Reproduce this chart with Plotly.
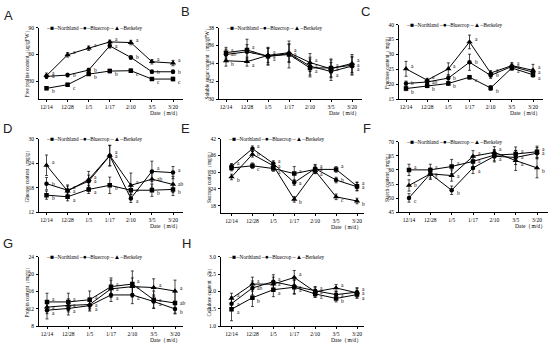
import plotly.graph_objects as go

dates = ["12/14", "12/28", "1/5", "1/17", "2/10", "3/5", "3/20"]
series_names = ["Northland", "Bluecrop", "Berkeley"]

# ---- A: Free proline
a_northland = [22.2, 26.3, 38.1, 41.5, 41.9, 32.6, 32.6]
a_bluecrop = [35.6, 37.0, 42.6, 69.6, 56.7, 40.7, 40.7]
a_berkeley = [36.3, 59.6, 67.0, 74.0, 73.3, 51.9, 50.4]
a_err_northland = [1.5, 1.5, 1.5, 2.0, 2.0, 1.5, 2.0]
a_err_bluecrop = [2.0, 2.0, 2.0, 2.5, 2.0, 2.0, 2.0]
a_err_berkeley = [3.0, 2.5, 2.5, 2.0, 2.5, 2.5, 3.0]
a_let_northland = ["b", "c", "b", "b", "c", "c", "c"]
a_let_bluecrop = ["a", "b", "b", "a", "b", "b", "b"]
a_let_berkeley = ["a", "a", "a", "a", "a", "a", "a"]

# ---- B: Soluble sugar
b_northland = [35.2, 35.5, 34.8, 35.0, 33.5, 33.5, 33.8]
b_bluecrop = [35.0, 35.3, 34.8, 35.1, 33.7, 33.1, 33.7]
b_berkeley = [34.3, 34.2, 34.9, 35.2, 34.1, 33.4, 34.0]
b_err_northland = [0.6, 1.2, 1.0, 1.5, 1.0, 1.0, 1.0]
b_err_bluecrop = [0.6, 0.8, 0.9, 1.0, 1.0, 1.0, 1.0]
b_err_berkeley = [0.6, 0.5, 0.8, 1.0, 1.0, 1.0, 1.0]
b_let_northland = ["a", "a", "a", "a", "a", "a", "a"]
b_let_bluecrop = ["ab", "a", "a", "a", "a", "a", "a"]
b_let_berkeley = ["b", "a", "a", "a", "a", "a", "a"]

# ---- C: Fructose
c_northland = [18.6, 19.5, 20.3, 22.4, 18.8, 25.5, 23.2]
c_bluecrop = [20.3, 20.8, 22.1, 27.4, 23.0, 26.0, 24.1]
c_berkeley = [25.2, 21.4, 25.2, 34.2, 23.8, 26.3, 24.7]
c_err_northland = [0.7, 0.6, 0.6, 0.6, 0.8, 0.8, 0.8]
c_err_bluecrop = [0.8, 0.7, 1.0, 2.7, 1.0, 0.8, 1.0]
c_err_berkeley = [2.5, 0.6, 2.0, 2.3, 0.8, 1.0, 2.0]
c_let_northland = ["b", "b", "b", "c", "b", "a", "a"]
c_let_bluecrop = ["b", "ab", "b", "b", "b", "a", "a"]
c_let_berkeley = ["a", "a", "a", "a", "a", "a", "a"]

# ---- D: Glucose
d_northland = [16.2, 15.8, 17.6, 18.6, 17.4, 17.4, 17.6]
d_bluecrop = [19.0, 17.4, 19.6, 25.8, 15.4, 22.0, 21.7]
d_berkeley = [23.5, 17.2, 20.0, 25.9, 18.6, 20.1, 18.8]
d_err_northland = [1.0, 1.0, 1.0, 2.0, 1.0, 1.5, 1.5]
d_err_bluecrop = [1.5, 1.0, 1.5, 2.5, 1.0, 2.5, 1.5]
d_err_berkeley = [2.5, 1.5, 2.0, 2.5, 3.0, 2.0, 2.0]
d_let_northland = ["b", "a", "a", "b", "a", "b", "b"]
d_let_bluecrop = ["b", "a", "a", "a", "a", "a", "a"]
d_let_berkeley = ["a", "a", "a", "a", "a", "ab", "ab"]

# ---- E: Sucrose
e_northland = [31.5, 32.3, 31.3, 29.5, 31.0, 31.0, 25.0]
e_bluecrop = [32.1, 38.4, 33.1, 26.3, 31.3, 27.2, 24.8]
e_berkeley = [28.3, 36.4, 32.3, 20.3, 30.5, 21.2, 19.7]
e_err_northland = [1.0, 1.0, 1.0, 2.5, 1.5, 1.0, 1.5]
e_err_bluecrop = [1.0, 1.0, 1.0, 1.0, 1.5, 1.0, 1.5]
e_err_berkeley = [1.0, 1.0, 1.0, 1.0, 1.0, 1.0, 1.0]
e_let_northland = ["a", "c", "a", "a", "a", "a", "a"]
e_let_bluecrop = ["a", "a", "a", "a", "a", "b", "a"]
e_let_berkeley = ["b", "b", "a", "b", "a", "c", "b"]

# ---- F: Starch
f_northland = [60.0, 60.0, 61.2, 63.0, 65.2, 65.6, 66.4]
f_bluecrop = [50.1, 58.6, 52.8, 60.7, 64.8, 64.4, 65.9]
f_berkeley = [54.5, 58.6, 58.0, 64.8, 66.2, 63.3, 60.7]
f_err_northland = [2.0, 2.0, 2.5, 2.0, 2.0, 2.5, 2.0]
f_err_bluecrop = [1.5, 1.5, 1.5, 2.0, 2.0, 2.5, 2.0]
f_err_berkeley = [2.0, 2.0, 2.0, 2.0, 2.0, 3.5, 3.5]
f_let_northland = ["a", "a", "a", "a", "a", "a", "a"]
f_let_bluecrop = ["c", "a", "b", "a", "a", "a", "a"]
f_let_berkeley = ["b", "a", "a", "a", "a", "a", "b"]

# ---- G: Protein
g_northland = [13.6, 13.6, 14.1, 17.1, 17.7, 14.1, 13.35]
g_bluecrop = [11.7, 12.1, 12.75, 15.2, 15.2, 13.7, 12.0]
g_berkeley = [12.4, 12.8, 13.0, 16.6, 17.1, 16.9, 16.1]
g_err_northland = [2.0, 2.0, 2.0, 2.0, 3.0, 2.0, 2.5]
g_err_bluecrop = [2.0, 1.5, 1.0, 1.5, 2.0, 1.5, 1.0]
g_err_berkeley = [1.5, 1.5, 1.5, 2.0, 2.0, 2.0, 2.5]
g_let_northland = ["a", "a", "a", "a", "a", "a", "ab"]
g_let_bluecrop = ["a", "a", "a", "a", "a", "a", "b"]
g_let_berkeley = ["a", "a", "a", "a", "a", "a", "a"]

# ---- H: Cellulose
h_northland = [1.49, 1.82, 2.05, 2.12, 1.93, 1.80, 1.91]
h_bluecrop = [1.65, 2.10, 2.28, 2.14, 2.02, 1.91, 1.98]
h_berkeley = [1.80, 2.21, 2.21, 2.40, 1.99, 2.10, 1.96]
h_err_northland = [0.33, 0.25, 0.2, 0.2, 0.1, 0.1, 0.1]
h_err_bluecrop = [0.2, 0.2, 0.2, 0.2, 0.1, 0.1, 0.1]
h_err_berkeley = [0.15, 0.2, 0.2, 0.2, 0.15, 0.1, 0.15]
h_let_northland = ["a", "b", "a", "a", "a", "b", "a"]
h_let_bluecrop = ["a", "ab", "a", "a", "a", "a", "a"]
h_let_berkeley = ["a", "a", "a", "a", "a", "a", "a"]

panel_letters = ["A", "B", "C", "D", "E", "F", "G", "H"]
y_titles = [
    "Free proline content（μg/gFW）",
    "Soluble sugar content（mg/gFW）",
    "Fructose content（mg/g）",
    "Glucose content（mg/g）",
    "Sucrose content（mg/g）",
    "Starch content（mg/g）",
    "Protein content（mg/g）",
    "Cellulose content（%）",
]
y_ranges = [[10, 90], [30, 38], [15, 40], [12, 30], [15.3, 42], [45, 70], [8, 24], [1.0, 3.0]]
y_ticks = [[30, 60, 90], [30, 32, 34, 36, 38], [15, 20, 25, 30, 35, 40], [12, 18, 24, 30],
           [18, 24, 30, 36, 42], [45, 50, 55, 60, 65, 70], [8, 12, 16, 20, 24],
           [1.0, 1.5, 2.0, 2.5, 3.0]]
x_label = "Date（m/d）"

panel_values = [
    (a_northland, a_bluecrop, a_berkeley), (b_northland, b_bluecrop, b_berkeley),
    (c_northland, c_bluecrop, c_berkeley), (d_northland, d_bluecrop, d_berkeley),
    (e_northland, e_bluecrop, e_berkeley), (f_northland, f_bluecrop, f_berkeley),
    (g_northland, g_bluecrop, g_berkeley), (h_northland, h_bluecrop, h_berkeley),
]
panel_errors = [
    (a_err_northland, a_err_bluecrop, a_err_berkeley), (b_err_northland, b_err_bluecrop, b_err_berkeley),
    (c_err_northland, c_err_bluecrop, c_err_berkeley), (d_err_northland, d_err_bluecrop, d_err_berkeley),
    (e_err_northland, e_err_bluecrop, e_err_berkeley), (f_err_northland, f_err_bluecrop, f_err_berkeley),
    (g_err_northland, g_err_bluecrop, g_err_berkeley), (h_err_northland, h_err_bluecrop, h_err_berkeley),
]
panel_lets = [
    (a_let_northland, a_let_bluecrop, a_let_berkeley), (b_let_northland, b_let_bluecrop, b_let_berkeley),
    (c_let_northland, c_let_bluecrop, c_let_berkeley), (d_let_northland, d_let_bluecrop, d_let_berkeley),
    (e_let_northland, e_let_bluecrop, e_let_berkeley), (f_let_northland, f_let_bluecrop, f_let_berkeley),
    (g_let_northland, g_let_bluecrop, g_let_berkeley), (h_let_northland, h_let_bluecrop, h_let_berkeley),
]

# ---- layout geometry (pixels): left, first-cat, last-cat, right, top, bottom
W, H = 550, 349
geom = [
    (39, 46.5, 173, 183, 25, 98),
    (219, 226, 352, 362, 25, 98),
    (399, 406, 533, 543, 22, 98),
    (39, 46.5, 173, 183, 138, 213),
    (221, 231.5, 357, 364, 138, 214),
    (399, 409, 537, 548, 141, 213),
    (39, 47, 175, 183, 258, 329),
    (221, 231.5, 357, 364, 258, 329),
]
letter_pos = [(8, 13), (185, 9), (365, 9), (7, 128), (185, 128), (367, 128), (8, 245), (186, 245)]

symbols = ["square", "circle", "triangle-up"]
SERIF = "Liberation Serif, Times New Roman, serif"

fig = go.Figure()
annotations = []
layout = {}

for i in range(8):
    n = i + 1
    xa = "x" if n == 1 else f"x{n}"
    ya = "y" if n == 1 else f"y{n}"
    left, first, last, right, top, bottom = geom[i]
    sp = (last - first) / 6.0
    r0 = -(first - left) / sp
    r1 = 6 + (right - last) / sp
    for s in range(3):
        fig.add_trace(go.Scatter(
            x=dates, y=panel_values[i][s], name=series_names[s],
            mode="lines+markers", xaxis=xa, yaxis=ya, showlegend=False,
            line=dict(color="black", width=1),
            marker=dict(symbol=symbols[s], size=4.5 if s != 2 else 5.5, color="black"),
            error_y=dict(type="data", array=panel_errors[i][s], color="black",
                         thickness=0.7, width=1.5),
        ))
    # significance letters
    for k in range(7):
        vals = [panel_values[i][s][k] for s in range(3)]
        order = sorted(range(3), key=lambda s: vals[s])
        for s in range(3):
            rank = order.index(s)
            ys = {0: -3, 1: 0, 2: 3}[rank]
            annotations.append(dict(
                x=dates[k], y=vals[s], xref=xa, yref=ya, text=panel_lets[i][s][k],
                showarrow=False, xanchor="left", yanchor="middle", xshift=3, yshift=ys,
                font=dict(family=SERIF, size=5.5, color="black")))
    xk = "xaxis" if n == 1 else f"xaxis{n}"
    yk = "yaxis" if n == 1 else f"yaxis{n}"
    layout[xk] = dict(
        domain=[left / W, right / W], anchor=ya, type="category", range=[r0, r1],
        showline=True, linecolor="black", linewidth=1, ticks="outside", ticklen=2,
        tickwidth=1, tickcolor="black", showgrid=False, zeroline=False,
        ticklabelstandoff=0,
        tickfont=dict(family=SERIF, size=5.5, color="black"), fixedrange=True)
    layout[yk] = dict(
        domain=[1 - bottom / H, 1 - top / H], anchor=xa, range=y_ranges[i],
        tickvals=y_ticks[i], showline=True, linecolor="black", linewidth=1,
        ticks="outside", ticklen=2, tickwidth=1, tickcolor="black", showgrid=False,
        zeroline=False, tickfont=dict(family=SERIF, size=5.5, color="black"),
        ticklabelstandoff=1, fixedrange=True,
        tickformat=".1f" if i == 7 else None)
    # y-title
    annotations.append(dict(
        x=(left - 12) / W, y=1 - (top + bottom) / 2 / H, xref="paper", yref="paper",
        text=y_titles[i], textangle=-90, showarrow=False, xanchor="center", yanchor="middle",
        font=dict(family=SERIF, size=5.2, color="black")))
    # x label
    annotations.append(dict(
        x=right / W, y=1 - (bottom + 14) / H, xref="paper", yref="paper",
        text=x_label, showarrow=False, xanchor="right", yanchor="middle",
        font=dict(family=SERIF, size=5.5, color="black")))
    # legend
    leg = ("<span style='font-size:6.5px'>–■–</span>Northland "
           "<span style='font-size:6.5px'>–●–</span>Bluecrop "
           "<span style='font-size:6.5px'>–▲–</span>Berkeley")
    annotations.append(dict(
        x=(left + 5) / W, y=1 - top / H, xref="paper", yref="paper", text=leg,
        showarrow=False, xanchor="left", yanchor="middle",
        font=dict(family=SERIF, size=5.2, color="black")))
    # panel letter
    lx, ly = letter_pos[i]
    annotations.append(dict(
        x=lx / W, y=1 - ly / H, xref="paper", yref="paper", text=panel_letters[i],
        showarrow=False, xanchor="center", yanchor="middle",
        font=dict(family="Liberation Sans, Arial, sans-serif", size=13, color="#222")))

fig.update_layout(
    width=W, height=H, margin=dict(l=0, r=0, t=0, b=0),
    paper_bgcolor="white", plot_bgcolor="white", showlegend=False,
    annotations=annotations, **layout)

fig.write_html(
    "out.html",
    config={"displayModeBar": False, "staticPlot": True},
    post_script="document.body.style.margin='0';document.body.style.overflow='hidden';",
)
